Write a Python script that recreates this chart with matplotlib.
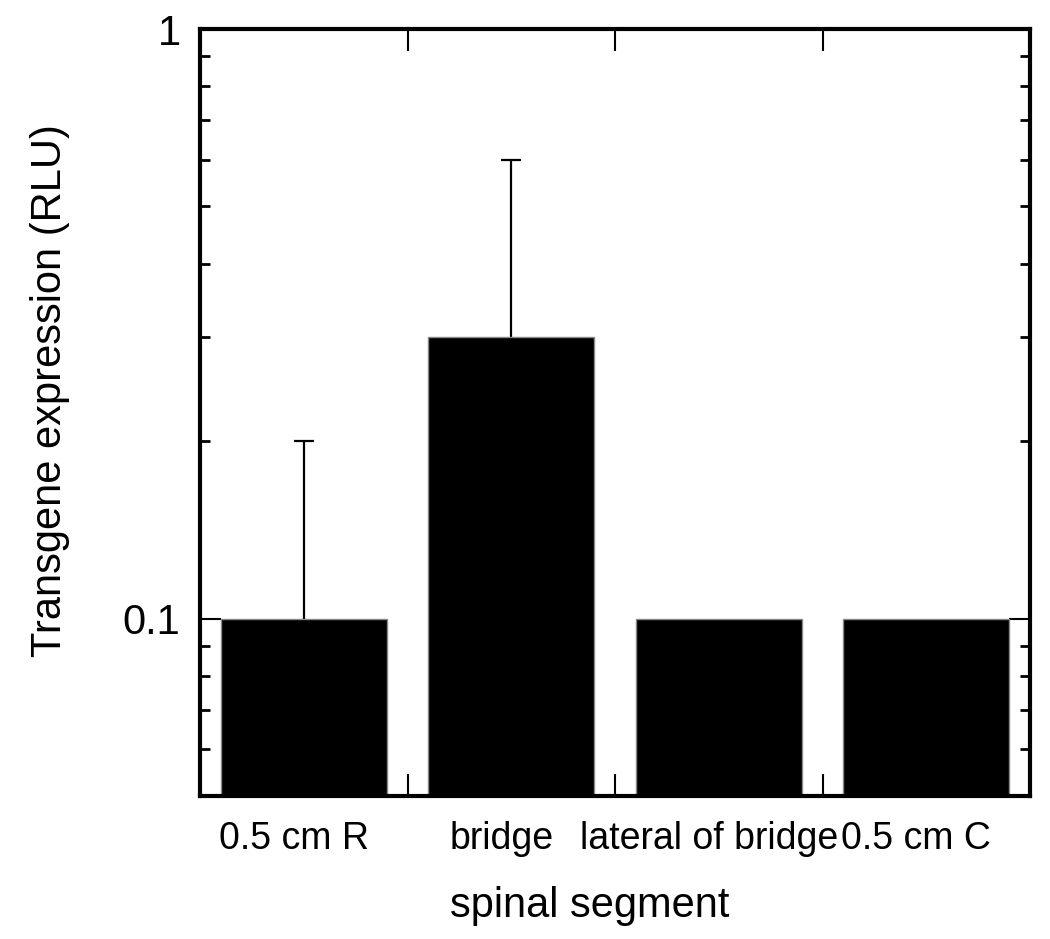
import numpy as np
import matplotlib
matplotlib.use('Agg')
import matplotlib.pyplot as plt
from matplotlib.ticker import FixedLocator, NullFormatter
import matplotlib.transforms as mtransforms

plt.rcParams['font.family'] = ['Liberation Sans', 'DejaVu Sans']

# data
segments = ['0.5 cm R', 'bridge', 'lateral of bridge', '0.5 cm C']
expression = [0.1, 0.3, 0.1, 0.1]
err_upper = [0.1, 0.3, 0.0, 0.0]
y_ticks = [0.1, 1]
y_tick_labels = ['0.1', '1']

fig = plt.figure(figsize=(10.5, 9.39), dpi=100)
ax = fig.add_axes([0.1905, 0.1523, 0.7905, 0.8168])

x = np.arange(len(segments))
ax.bar(x, expression, width=0.8, color='black', edgecolor='#888888',
       linewidth=1.0, zorder=2)

# only the upper half of the error bars is drawn, cap on top only
vals = np.array(expression)
errs = np.array(err_upper)
has_err = errs > 0
ax.vlines(x[has_err], vals[has_err], vals[has_err] + errs[has_err],
          color='black', linewidth=1.6, zorder=1)
ax.plot(x[has_err], vals[has_err] + errs[has_err], ls='none', marker='_',
        markersize=14, markeredgewidth=1.6, color='black', zorder=1)

ax.set_yscale('log')
ax.set_ylim(0.05, 1)
ax.set_xlim(-0.5, len(segments) - 0.5)

ax.yaxis.set_major_locator(FixedLocator(y_ticks))
ax.set_yticklabels(y_tick_labels)
ax.yaxis.set_minor_locator(FixedLocator(
    [0.05, 0.06, 0.07, 0.08, 0.09, 0.2, 0.3, 0.4, 0.5, 0.6, 0.7, 0.8, 0.9]))
ax.yaxis.set_minor_formatter(NullFormatter())

ax.set_xticks(x)
ax.set_xticklabels(segments)
ax.set_xticks(x[:-1] + 0.5, minor=True)

ax.tick_params(axis='y', which='major', direction='in', length=15,
               width=1.5, left=True, right=True, labelsize=30, pad=14)
ax.tick_params(axis='y', which='minor', direction='in', length=7,
               width=2, left=True, right=True)
ax.tick_params(axis='x', which='major', length=0, labelsize=27, pad=18)
ax.tick_params(axis='x', which='minor', direction='in', length=16,
               width=1.5, top=True, bottom=True)

# labels sit a little left of the bar centres in the original
shift = mtransforms.ScaledTranslation(-0.1, 0, fig.dpi_scale_trans)
for lbl in ax.get_xticklabels():
    lbl.set_transform(lbl.get_transform() + shift)

for side in ax.spines.values():
    side.set_linewidth(3)

ax.set_xlabel('spinal segment', fontsize=30)
ax.set_ylabel('Transgene expression (RLU)', fontsize=30)
ax.xaxis.set_label_coords(0.47, -0.118)
ax.yaxis.set_label_coords(-0.157, 0.529)

fig.savefig('out.png', dpi=100)
